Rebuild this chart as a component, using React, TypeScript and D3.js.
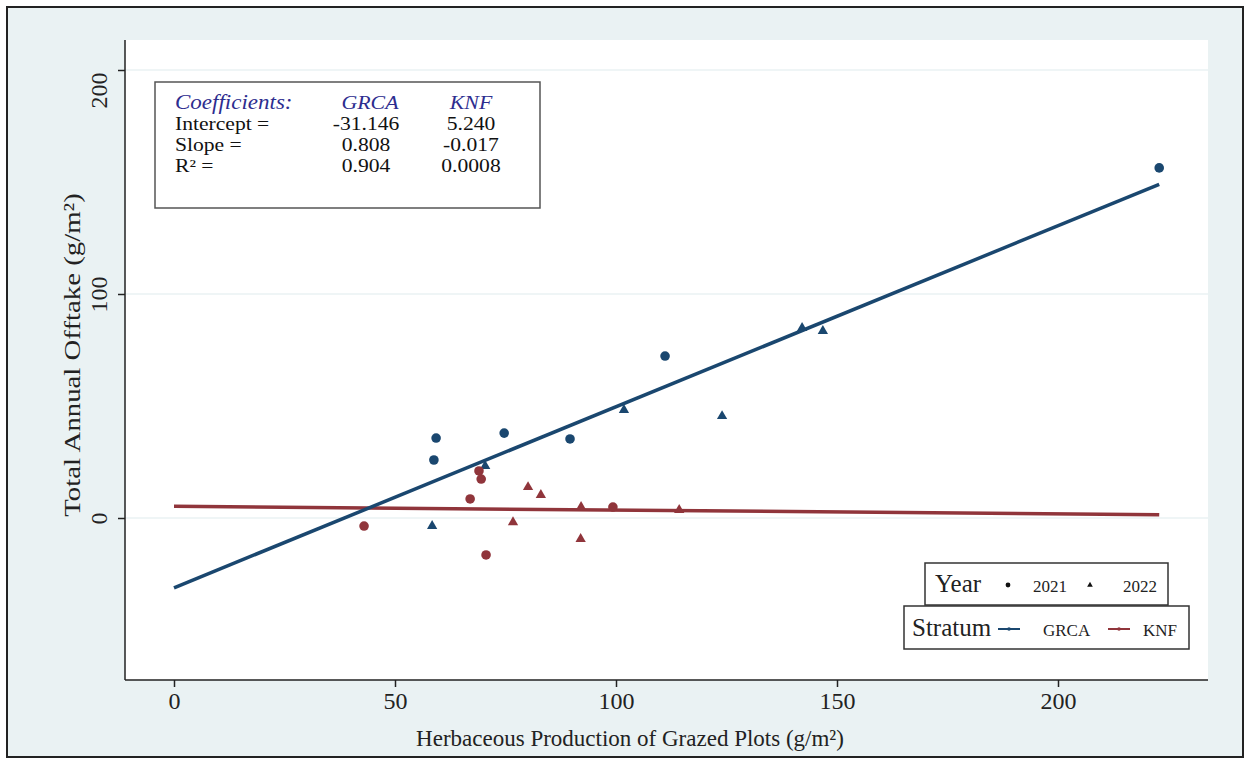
import React, { useEffect, useRef } from "react"
import * as d3 from "d3"

// points: [production, offtake]
const grca2021 = [
  [59.3, 35.7],
  [58.8, 25.9],
  [74.7, 37.9],
  [89.6, 35.3],
  [111.1, 72.3],
  [222.9, 156.3],
]
const grca2022 = [
  [58.4, -3.6],
  [70.4, 23.2],
  [101.8, 48.2],
  [124.0, 45.5],
  [142.1, 84.8],
  [146.8, 83.5],
]
const knf2021 = [
  [43.0, -3.6],
  [67.0, 8.5],
  [69.0, 21.0],
  [69.5, 17.4],
  [70.6, -16.5],
  [99.3, 4.9],
]
const knf2022 = [
  [76.7, -1.9],
  [80.1, 13.8],
  [83.0, 10.3],
  [92.1, 4.9],
  [92.0, -9.4],
  [114.3, 3.6],
]

// fitted lines
const intercepts = [-31.146, 5.24]
const slopes = [0.808, -0.017]

const xTicks = [0, 50, 100, 150, 200]
const yTicks = [0, 100, 200]

const coefHeaders = ["GRCA", "KNF"]
const coefRows = ["Intercept =", "Slope =", "R² ="]
const grcaCoefs = ["-31.146", "0.808", "0.904"]
const knfCoefs = ["5.240", "-0.017", "0.0008"]

const NAVY = "#1a476f"
const MAROON = "#90353b"
const BG = "#eaf2f3"
const FONT = "'Liberation Serif', 'Times New Roman', serif"

const plot = { left: 125, right: 1208, top: 40, bottom: 680 }

const x = d3.scaleLinear().domain([0, 200]).range([174, 1058])
const y = d3.scaleLinear().domain([0, 200]).range([518, 70])

// stretched text like the source image
const T = ({ x, y, size, anchor = "start", italic = false, fill = "#111", sx = 1.2, children }) => (
  <text
    transform={`translate(${x},${y}) scale(${sx},1)`}
    fontSize={size}
    fontStyle={italic ? "italic" : "normal"}
    textAnchor={anchor}
    fill={fill}
    fontFamily={FONT}
  >
    {children}
  </text>
)

const App = () => {
  const xAxisRef = useRef(null)
  const yAxisRef = useRef(null)

  useEffect(() => {
    const gx = d3.select(xAxisRef.current)
    gx.call(d3.axisBottom(x).tickValues(xTicks).tickSize(7).tickPadding(5))
    gx.select(".domain").remove()
    gx.selectAll("line").attr("stroke", "#222").attr("stroke-width", 1.5)
    gx.selectAll("text")
      .attr("font-family", FONT)
      .attr("font-size", 24)
      .attr("fill", "#222")

    const gy = d3.select(yAxisRef.current)
    gy.call(d3.axisLeft(y).tickValues(yTicks).tickSize(7).tickPadding(6))
    gy.select(".domain").remove()
    gy.selectAll("line").attr("stroke", "#222").attr("stroke-width", 1.5)
    gy.selectAll("text")
      .attr("font-family", FONT)
      .attr("font-size", 24)
      .attr("fill", "#222")
      .attr("text-anchor", "middle")
      .attr("x", null)
      .attr("dy", null)
      // the top label sits a little below its tick in the source
      .attr("transform", (d) => `translate(-18,${d === 200 ? 20 : 0}) rotate(-90)`)
  }, [])

  const tri = d3.symbol(d3.symbolTriangle, 46)()
  const triSmall = d3.symbol(d3.symbolTriangle, 14)()
  const xMax = d3.max([...grca2021, ...grca2022], (d) => d[0])

  const fitLine = (i) => {
    const xs = [0, xMax]
    return d3.line()(xs.map((v) => [x(v), y(intercepts[i] + slopes[i] * v)]))
  }

  const circles = (data, color) =>
    data.map((d, i) => <circle key={i} cx={x(d[0])} cy={y(d[1])} r={4.8} fill={color} />)
  const triangles = (data, color) =>
    data.map((d, i) => (
      <path key={i} d={tri} transform={`translate(${x(d[0])},${y(d[1])})`} fill={color} />
    ))

  return (
    <div style={{ position: "absolute", left: 0, top: 0 }}>
      <svg width={1250} height={761}>
        <rect x={0} y={0} width={1250} height={761} fill="#fff" />
        <rect x={7} y={7} width={1236} height={750} fill={BG} stroke="#222" strokeWidth={2} />
        <rect
          x={plot.left}
          y={plot.top}
          width={plot.right - plot.left}
          height={plot.bottom - plot.top}
          fill="#fff"
        />
        {yTicks.map((t) => (
          <line key={t} x1={plot.left} x2={plot.right} y1={y(t)} y2={y(t)} stroke={BG} strokeWidth={1.5} />
        ))}

        {/* fitted lines */}
        <path d={fitLine(1)} stroke={MAROON} strokeWidth={3.5} fill="none" />
        <path d={fitLine(0)} stroke={NAVY} strokeWidth={3.5} fill="none" />

        {circles(grca2021, NAVY)}
        {triangles(grca2022, NAVY)}
        {circles(knf2021, MAROON)}
        {triangles(knf2022, MAROON)}

        {/* axes */}
        <line x1={plot.left} x2={plot.left} y1={plot.top} y2={plot.bottom} stroke="#222" strokeWidth={1.5} />
        <line x1={plot.left} x2={plot.right} y1={plot.bottom} y2={plot.bottom} stroke="#222" strokeWidth={1.5} />
        <g ref={xAxisRef} transform={`translate(0,${plot.bottom})`} />
        <g ref={yAxisRef} transform={`translate(${plot.left},0)`} />

        <text x={630} y={746} textAnchor="middle" fontFamily={FONT} fontSize={23} fill="#222">
          Herbaceous Production of Grazed Plots (g/m²)
        </text>
        <text
          transform={`translate(80,${(plot.top + plot.bottom) / 2 - 5}) rotate(-90) scale(1.2,1)`}
          textAnchor="middle"
          fontFamily={FONT}
          fontSize={24}
          fill="#222"
        >
          Total Annual Offtake  (g/m²)
        </text>

        {/* coefficient box */}
        <rect x={155} y={82} width={385} height={126} fill="#fff" stroke="#555" strokeWidth={1.5} />
        <T x={175} y={109} size={20} italic fill="#2d2d8f" sx={1.15}>Coefficients:</T>
        <T x={370} y={109} size={19} italic fill="#2d2d8f" anchor="middle" sx={1.15}>{coefHeaders[0]}</T>
        <T x={471} y={109} size={19} italic fill="#2d2d8f" anchor="middle" sx={1.15}>{coefHeaders[1]}</T>
        {coefRows.map((r, i) => (
          <g key={r}>
            <T x={175} y={130 + i * 21} size={18}>{r}</T>
            <T x={366} y={130 + i * 21} size={18} anchor="middle">{grcaCoefs[i]}</T>
            <T x={471} y={130 + i * 21} size={18} anchor="middle">{knfCoefs[i]}</T>
          </g>
        ))}

        {/* legends */}
        <rect x={925} y={563} width={243} height={42} fill="#fff" stroke="#333" strokeWidth={1.5} />
        <text x={935} y={592} fontFamily={FONT} fontSize={25} fill="#222">Year</text>
        <circle cx={1008} cy={585} r={2.4} fill="#111" />
        <text x={1033} y={592} fontFamily={FONT} fontSize={17} fill="#222">2021</text>
        <path d={triSmall} transform="translate(1090,585)" fill="#111" />
        <text x={1123} y={592} fontFamily={FONT} fontSize={17} fill="#222">2022</text>

        <rect x={904} y={606} width={285} height={43} fill="#fff" stroke="#333" strokeWidth={1.5} />
        <text x={912} y={636} fontFamily={FONT} fontSize={25} fill="#222">Stratum</text>
        <line x1={998} x2={1020} y1={629} y2={629} stroke={NAVY} strokeWidth={2} />
        <circle cx={1009} cy={629} r={1.8} fill={NAVY} />
        <text x={1043} y={636} fontFamily={FONT} fontSize={17} fill="#222">GRCA</text>
        <line x1={1108} x2={1130} y1={629} y2={629} stroke={MAROON} strokeWidth={2} />
        <circle cx={1119} cy={629} r={1.8} fill={MAROON} />
        <text x={1143} y={636} fontFamily={FONT} fontSize={17} fill="#222">KNF</text>
      </svg>
    </div>
  )
}

export default App
